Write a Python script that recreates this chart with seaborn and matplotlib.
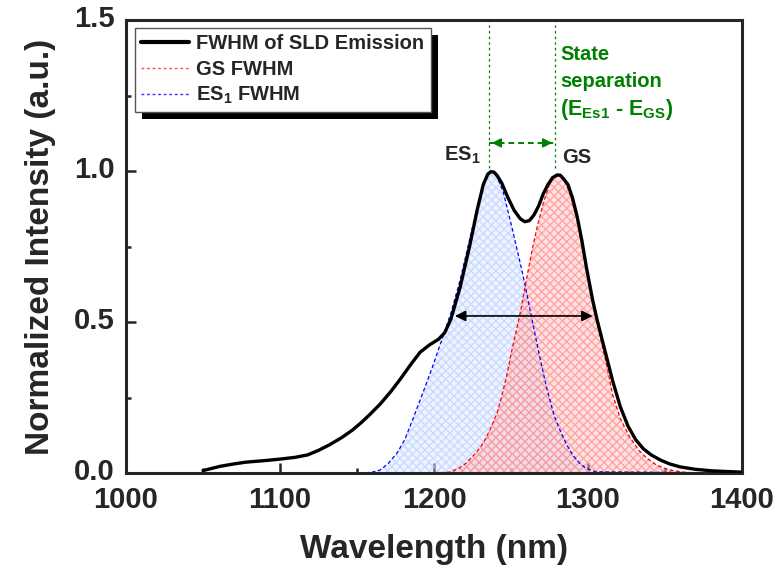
import numpy as np
import pandas as pd
import matplotlib
matplotlib.use("Agg")
import matplotlib.pyplot as plt
import matplotlib.transforms as mtransforms
from matplotlib.lines import Line2D
from matplotlib.patches import Rectangle
import seaborn as sns

# ====== DATA ======
sld_wl = [1050, 1061, 1070, 1078, 1090, 1100, 1110, 1118, 1125, 1132, 1140, 1147,
          1153, 1158, 1165, 1172, 1178, 1185, 1191, 1197, 1203, 1207, 1211, 1217,
          1223, 1228, 1232, 1235, 1237, 1239, 1241, 1244, 1248, 1252, 1256, 1259,
          1262, 1265, 1268, 1271, 1274, 1277, 1280, 1282, 1284, 1287, 1290, 1293,
          1296, 1299, 1303, 1306, 1311, 1316, 1321, 1326, 1331, 1336, 1341, 1347,
          1353, 1360, 1370, 1381, 1399]
sld_int = [0.008, 0.022, 0.030, 0.036, 0.041, 0.046, 0.052, 0.060, 0.075, 0.093, 0.117, 0.142,
           0.168, 0.192, 0.228, 0.270, 0.310, 0.360, 0.400, 0.424, 0.443, 0.465, 0.510, 0.616,
           0.748, 0.870, 0.955, 0.990, 0.998, 0.996, 0.985, 0.960, 0.912, 0.870, 0.842, 0.832,
           0.836, 0.855, 0.885, 0.925, 0.955, 0.978, 0.987, 0.986, 0.975, 0.955, 0.910, 0.848,
           0.770, 0.680, 0.573, 0.505, 0.405, 0.305, 0.219, 0.155, 0.110, 0.080, 0.060, 0.043,
           0.030, 0.020, 0.012, 0.007, 0.003]

es1_wl = [1050, 1155, 1160, 1165, 1170, 1176, 1181, 1186, 1192, 1199, 1205, 1211, 1217,
          1223, 1229, 1233, 1236, 1238, 1241, 1245, 1251, 1258, 1264, 1268, 1273, 1278,
          1282, 1286, 1290, 1295, 1299, 1305, 1400]
es1_int = [0.0, 0.0, 0.003, 0.010, 0.030, 0.066, 0.110, 0.175, 0.255, 0.351, 0.440, 0.530, 0.640,
           0.770, 0.900, 0.970, 1.000, 0.997, 0.980, 0.930, 0.805, 0.650, 0.500, 0.400, 0.285, 0.190,
           0.140, 0.095, 0.060, 0.030, 0.015, 0.004, 0.0]

gs_wl = [1050, 1200, 1210, 1216, 1221, 1227, 1232, 1237, 1241, 1244, 1247, 1251, 1256,
         1260, 1264, 1267, 1271, 1275, 1278, 1280, 1282, 1285, 1288, 1293, 1298, 1303,
         1308, 1312, 1316, 1321, 1327, 1333, 1338, 1344, 1349, 1355, 1362, 1370, 1400]
gs_int = [0.0, 0.0, 0.003, 0.015, 0.033, 0.065, 0.099, 0.150, 0.199, 0.255, 0.318, 0.417, 0.530,
          0.640, 0.745, 0.815, 0.895, 0.955, 0.980, 0.985, 0.982, 0.965, 0.930, 0.840, 0.700, 0.570,
          0.450, 0.360, 0.260, 0.180, 0.120, 0.075, 0.050, 0.028, 0.017, 0.008, 0.003, 0.0, 0.0]

peak_wl = [1235.7, 1278.6]      # ES1, GS
fwhm_span = [1213.6, 1303.0]
fwhm_level = 0.52
sep_level = 1.093

GREEN = "#008000"

# ====== STYLE ======
sns.set_theme(style="ticks")
plt.rcParams["font.family"] = ["Liberation Sans", "DejaVu Sans"]
plt.rcParams["font.weight"] = "bold"
plt.rcParams["mathtext.fontset"] = "custom"
plt.rcParams["mathtext.rm"] = "Liberation Sans:bold"
plt.rcParams["mathtext.bf"] = "Liberation Sans:bold"
plt.rcParams["mathtext.it"] = "Liberation Sans:bold"
plt.rcParams["hatch.linewidth"] = 1.0

fig = plt.figure(figsize=(7.82, 5.76), dpi=100)
ax = fig.add_axes([126 / 782, 103 / 576, 616 / 782, 453 / 576])

sld_df = pd.DataFrame({"wl": sld_wl, "I": sld_int})
es1_df = pd.DataFrame({"wl": es1_wl, "I": es1_int})
gs_df = pd.DataFrame({"wl": gs_wl, "I": gs_int})

# hatched fills
ax.fill_between(es1_df["wl"], es1_df["I"], 0, facecolor=(0.82, 0.87, 1.0, 0.35),
                edgecolor=(0.72, 0.81, 1.0, 0.65), hatch="xxxx", linewidth=0, zorder=1)
ax.fill_between(gs_df["wl"], gs_df["I"], 0, facecolor=(1.0, 0.75, 0.75, 0.45),
                edgecolor=(1.0, 0.55, 0.55, 0.7), hatch="xxxx", linewidth=0, zorder=1)

sns.lineplot(data=es1_df, x="wl", y="I", ax=ax, color="blue", lw=0.9,
             linestyle=(0, (3, 2)), sort=False, estimator=None, zorder=2)
sns.lineplot(data=gs_df, x="wl", y="I", ax=ax, color="red", lw=0.9,
             linestyle=(0, (3, 2)), sort=False, estimator=None, zorder=2)
sns.lineplot(data=sld_df, x="wl", y="I", ax=ax, color="black", lw=2.4,
             sort=False, estimator=None, zorder=3)

# state markers
for w in peak_wl:
    ax.plot([w, w], [1.01, 1.5], color=GREEN, lw=0.9, linestyle=(0, (2, 2.5)), zorder=2)
ax.plot(peak_wl, [sep_level, sep_level], color=GREEN, lw=1.4, linestyle=(0, (3, 2)), zorder=2)
ax.annotate("", xy=(peak_wl[0], sep_level), xytext=(peak_wl[0] + 6, sep_level),
            arrowprops=dict(arrowstyle="-|>", color=GREEN, lw=1.4, mutation_scale=13))
ax.annotate("", xy=(peak_wl[1], sep_level), xytext=(peak_wl[1] - 6, sep_level),
            arrowprops=dict(arrowstyle="-|>", color=GREEN, lw=1.4, mutation_scale=13))

ax.annotate("", xy=(fwhm_span[0], fwhm_level), xytext=(fwhm_span[1], fwhm_level),
            arrowprops=dict(arrowstyle="<|-|>", color="black", lw=1.2, mutation_scale=16,
                            shrinkA=0, shrinkB=0), zorder=4)

ax.text(1230, 1.053, r"ES$_1$", fontsize=14.5, fontweight="bold", ha="right", va="center")
ax.text(1283, 1.045, "GS", fontsize=14.5, fontweight="bold", ha="left", va="center")
ax.text(1282, 1.385, "State", fontsize=14.5, fontweight="bold", color=GREEN, va="center")
ax.text(1282, 1.295, "separation", fontsize=14.5, fontweight="bold", color=GREEN, va="center")
ax.text(1282, 1.205, r"(E$_{Es1}$ - E$_{GS}$)", fontsize=15.5, fontweight="bold",
        color=GREEN, va="center")

# ====== AXES ======
ax.set_xlim(1000, 1400)
ax.set_ylim(0, 1.5)
ax.set_xticks([1000, 1100, 1200, 1300, 1400])
ax.set_xticks([1050, 1150, 1250, 1350], minor=True)
ax.set_yticks([0, 0.5, 1.0, 1.5])
ax.set_yticklabels(["0.0", "0.5", "1.0", "1.5"])
ax.set_yticks([0.25, 0.75, 1.25], minor=True)
ax.tick_params(which="both", direction="in", width=1.8, labelsize=21, pad=8)
ax.tick_params(axis="x", pad=9)
ax.tick_params(which="major", length=7)
ax.tick_params(which="minor", length=3.5)
lift = mtransforms.ScaledTranslation(0, 3 / 72, fig.dpi_scale_trans)
for lab in ax.get_yticklabels():
    lab.set_fontweight("bold")
    lab.set_transform(lab.get_transform() + lift)
for lab in ax.get_xticklabels():
    lab.set_fontweight("bold")
for sp in ax.spines.values():
    sp.set_linewidth(2.2)
    sp.set_visible(True)
ax.set_xlabel("Wavelength (nm)", fontsize=24, fontweight="bold", labelpad=15)
ax.set_ylabel("Normalized Intensity (a.u.)", fontsize=24, fontweight="bold", labelpad=13)

# ====== LEGEND ======
handles = [Line2D([], [], color="black", lw=3),
           Line2D([], [], color="#ff5050", lw=1, linestyle=(0, (2, 2))),
           Line2D([], [], color="#3030ff", lw=1, linestyle=(0, (2, 2)))]
labels = ["FWHM of SLD Emission", "GS FWHM", r"ES$_1$ FWHM"]
leg = ax.legend(handles, labels, loc="upper left", bbox_to_anchor=(0.0146, 0.982),
                borderaxespad=0, frameon=True, fancybox=False, framealpha=1,
                edgecolor="#555555", prop={"size": 14.5, "weight": "bold"},
                handlelength=2.4, handletextpad=0.35, labelspacing=0.32, borderpad=0.3)
leg.get_frame().set_linewidth(1.0)
leg.set_zorder(6)

fig.canvas.draw()
bb = leg.get_window_extent()
ax.add_patch(Rectangle((bb.x0 + 7, bb.y0 - 7), bb.width, bb.height, transform=None,
                       facecolor="black", edgecolor="none", zorder=5.5, clip_on=False))

fig.savefig("out.png", dpi=100)
